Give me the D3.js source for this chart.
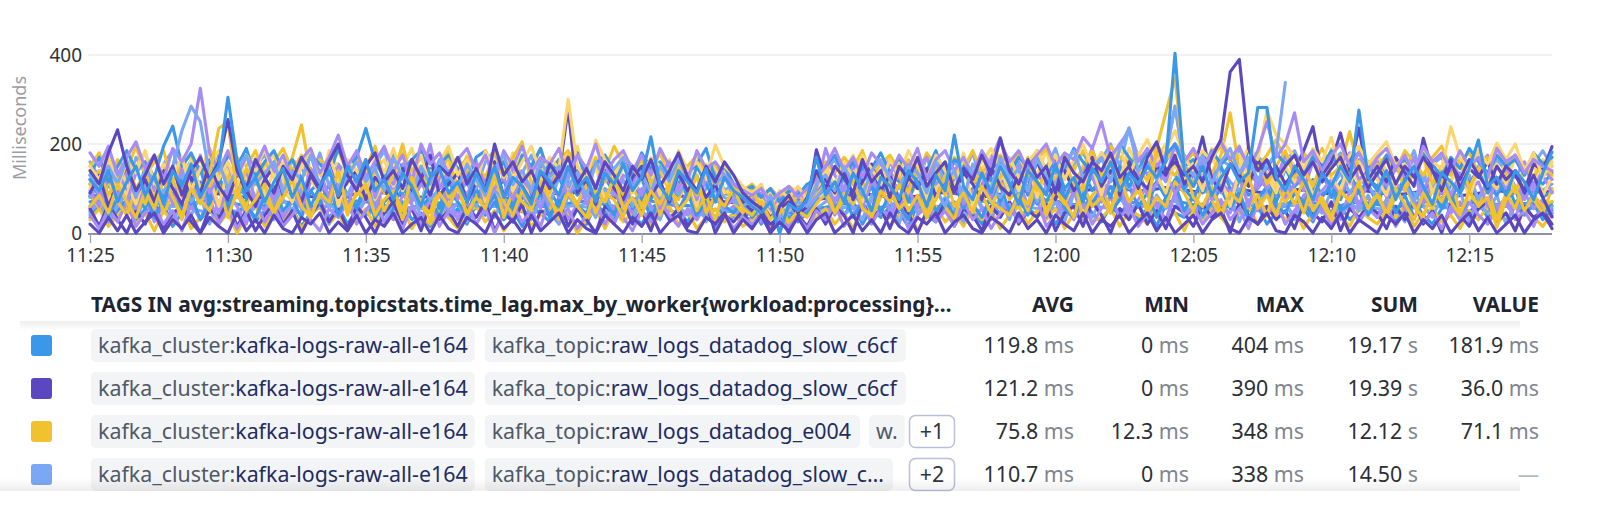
<!DOCTYPE html>
<html><head><meta charset="utf-8">
<script src="https://cdn.jsdelivr.net/npm/d3@7"></script>
<style>body{margin:0;background:#fff;}svg{display:block;font-family:"Noto Sans",sans-serif;}</style>
</head><body><svg id="c" width="1600" height="526"></svg>
<script>
// ---- data: one point every 20 s from 11:25 to 12:18 (160 points) ----
const s0=[120,95,140,70,115,150,85,130,65,140,105,155,80,120,150,305,160,95,125,70,
115,145,80,125,60,105,140,85,150,115,165,95,120,75,135,105,60,125,145,90,
115,70,135,95,150,80,125,105,65,140,115,85,150,100,125,70,135,110,155,95,
125,216,105,75,140,115,90,145,70,125,95,80,60,45,70,0,65,50,75,171,
85,115,70,135,95,50,125,105,75,140,115,60,130,95,220,105,75,135,90,150,
110,65,140,115,85,155,100,125,70,145,115,160,95,135,110,150,125,160,404,140,
105,150,85,125,155,115,135,282,282,125,95,150,120,75,135,105,150,115,276,125,
95,140,75,120,150,105,65,135,115,90,145,209,105,125,85,140,115,75,135,181.9];
const s1=[140,110,180,232,150,95,130,175,110,150,85,140,170,120,160,255,140,100,165,125,
90,150,120,170,135,100,160,200,130,95,150,180,115,140,100,165,125,85,150,130,
170,110,145,95,200,130,160,115,140,90,155,125,170,110,145,100,160,130,95,150,
120,165,105,140,180,125,95,150,115,160,130,90,70,55,0,60,85,45,80,140,
100,150,125,90,165,115,140,80,150,120,170,105,135,160,95,145,120,175,130,213,
140,110,165,125,150,90,170,135,115,160,140,180,125,150,100,170,205,140,160,130,
150,115,170,210,362,390,190,140,165,120,150,175,130,160,115,145,170,120,150,100,
135,165,110,150,125,170,140,95,155,120,165,130,100,150,120,140,90,130,80,36];
const s2=[60,85,45,110,70,35,95,55,120,80,40,100,65,130,235,250,90,50,75,110,
45,80,120,60,35,90,70,140,55,85,110,40,75,95,50,125,65,30,90,60,
105,45,80,55,130,70,40,95,60,115,75,45,90,60,35,100,70,125,55,80,
40,95,65,110,50,75,130,45,85,60,100,55,40,70,30,60,25,50,35,65,
90,45,75,120,55,40,95,70,110,50,85,35,75,130,60,90,45,105,70,55,
40,85,65,120,50,95,70,35,110,60,80,45,125,70,95,55,190,270,348,150,
80,60,105,45,90,70,130,55,85,40,100,65,120,50,80,35,95,70,115,55,
85,45,100,65,30,90,55,120,70,40,95,60,80,12.3,75,105,50,85,60,71.1];
const s3=[130,95,150,110,165,80,140,120,90,150,230,285,250,130,160,100,145,175,110,135,
160,90,140,120,175,105,150,85,130,160,115,145,95,170,125,80,150,110,165,130,
100,155,120,85,145,175,110,140,95,160,125,150,105,135,80,160,120,145,170,100,
135,90,150,115,165,125,95,145,110,130,80,60,75,40,85,0,55,70,60,110,
130,95,150,110,85,140,165,120,100,150,135,90,160,115,140,75,155,125,100,170,
120,145,95,165,130,110,155,185,125,150,170,115,190,236,140,160,120,175,285,150,
130,175,110,160,190,135,170,120,150,180,338];
const s4=[180,150,195,130,170,205,145,175,120,190,160,200,325,180,140,185,130,170,150,195,
140,175,120,165,190,135,170,220,150,185,125,160,195,140,175,115,200,155,180,130,
165,190,140,175,120,185,150,195,135,170,155,190,125,175,145,200,130,165,185,140,
175,130,190,150,170,120,185,145,160,130,110,95,85,100,70,90,105,80,100,120,
150,190,140,170,125,180,155,130,175,145,190,120,165,185,140,170,130,185,150,205,
160,185,140,175,200,150,180,165,215,190,250,170,200,230,160,190,150,175,285,160,
190,150,180,205,165,195,145,185,250,170,200,270,160,185,140,175,200,150,180,135,
170,190,145,175,130,195,160,180,140,185,150,170,125,190,160,175,135,165,150,140];
const s5=[150,120,175,100,160,135,185,110,155,130,170,95,145,180,120,160,105,175,140,190,
125,160,100,150,185,130,175,115,165,140,105,170,135,190,120,155,175,100,160,195,
130,165,110,185,140,175,120,160,195,135,170,145,300,150,120,209,165,130,180,145,
120,170,150,105,185,140,160,125,198,150,130,105,90,110,60,95,80,105,75,115,
140,105,160,125,175,145,110,165,130,185,150,120,175,140,105,170,135,160,190,145,
170,125,160,185,140,175,120,165,200,145,180,155,195,130,175,210,160,185,230,170,
140,185,160,210,175,145,195,165,275,220,200,170,145,190,160,215,140,175,195,155,
180,205,150,175,135,190,160,145,239,170,140,185,155,202,165,200,140,180,125,160];
const s6=[70,72,68,65,70,75,72,68,64,60,62,66,70,74,72,68,65,60,58,62,
66,70,68,64,60,58,62,66,70,72,70,66,62,58,55,58,62,66,68,65,
62,58,55,58,62,66,70,68,64,60,58,62,66,70,72,68,64,60,62,66,
70,72,68,64,60,62,58,55,52,50,48,45,42,44,46,48,45,50,52,55,
58,62,66,62,58,55,58,62,66,70,68,64,60,58,62,66,70,72,68,64,
60,62,66,70,74,72,68,64,66,70,74,78,75,70,66,62,66,70,72,68,
64,60,62,66,70,68,64,60,58,62,66,70,72,68,64,60,62,66,70,68,
64,60,58,62,66,70,72,68,64,62,66,70,68,64,60,62,66,68,65,62];
const s7=[90,130,60,110,150,85,120,70,140,100,65,125,90,155,105,75,135,95,60,120,
150,85,110,70,130,95,160,80,115,140,75,125,100,65,145,90,120,175,85,110,
135,70,115,95,160,80,125,105,70,140,100,130,280,90,120,65,140,100,75,125,
150,85,115,70,135,95,125,80,110,60,90,70,50,65,35,55,70,40,60,187,
120,90,140,75,115,155,95,130,70,125,100,145,80,120,90,135,110,75,150,105,
85,130,100,160,115,75,140,95,125,170,105,140,85,160,120,100,150,130,175,110,
140,216,120,95,155,130,105,165,125,150,110,140,185,239,130,160,225,140,236,120,
150,115,170,135,105,213,140,120,165,100,145,125,160,110,150,130,95,155,140,194];
const s8=[110,140,85,125,160,100,135,75,150,115,90,130,170,105,140,120,80,145,110,160,
125,95,170,243,130,100,150,85,120,165,105,140,90,130,200,115,150,95,135,170,
100,145,120,80,155,130,170,205,110,140,90,150,175,125,100,160,115,140,85,135,
165,110,140,95,150,120,85,145,105,130,100,80,95,60,75,45,90,65,85,110,
130,95,150,115,80,140,165,105,130,90,155,120,145,85,135,160,110,140,95,125,
150,115,170,95,140,120,165,105,150,185,130,155,100,165,140,120,175,145,130,160,
105,150,135,175,270,140,120,165,110,150,185,125,145,105,160,130,150,228,140,115,
155,120,165,95,140,175,110,150,130,165,100,145,170,120,135,90,150,125,160,130];
const s9=[80,110,60,95,130,75,105,55,120,85,140,70,100,125,60,95,115,80,135,90,
65,105,125,75,140,90,60,115,85,130,100,70,120,95,55,110,135,75,100,125,
85,115,60,130,95,75,120,140,80,105,65,125,90,110,135,70,100,85,120,60,
95,130,75,110,85,125,60,100,135,80,70,60,45,70,50,35,60,40,55,80,
105,70,125,90,60,115,95,140,75,110,130,85,100,60,120,95,75,135,105,80,
115,90,130,70,105,140,85,120,95,150,110,80,135,100,125,90,145,115,160,95,
130,105,80,145,115,95,130,150,100,120,85,140,110,75,125,100,135,90,120,105,
80,130,95,115,70,125,100,140,85,110,130,75,120,95,140,105,80,125,95,110];
const s10=[40,10,55,25,70,15,45,60,20,50,5,65,30,80,20,55,10,45,70,25,
60,15,40,75,30,5,55,35,70,20,50,80,25,45,10,60,30,75,15,50,
35,70,20,55,0,45,65,25,50,15,75,30,55,10,40,70,20,60,35,5,
50,25,70,40,15,55,30,65,20,45,10,35,20,40,5,30,15,35,10,50,
30,65,15,45,70,20,55,35,75,10,40,60,25,50,15,70,30,55,10,45,
65,25,50,75,15,40,60,30,70,20,55,80,35,60,15,45,70,25,90,40,
60,20,45,75,30,55,10,65,40,70,20,50,80,30,60,15,45,70,25,55,
35,65,15,50,75,25,45,10,60,30,70,40,20,55,80,30,50,15,65,40];
const s11=[100,140,75,160,110,65,135,90,150,120,80,165,100,125,60,145,95,130,170,85,
140,105,70,155,120,90,165,60,130,100,150,75,115,170,95,135,60,140,105,155,
85,130,165,70,120,150,95,140,60,125,100,160,80,135,110,150,70,125,165,90,
120,145,85,165,100,130,60,155,115,140,80,70,55,85,40,75,50,90,65,100,
130,85,155,110,70,145,120,90,160,105,135,75,150,115,90,165,60,130,105,145,
90,125,160,80,140,110,175,95,130,150,85,165,120,140,100,155,130,90,160,120,
145,95,175,120,60,140,105,165,130,90,150,115,170,80,140,125,95,160,110,145,
120,85,155,100,140,170,90,130,115,160,75,145,120,100,165,90,135,155,85,125];
const s12=[130,170,115,150,185,140,160,125,195,240,150,180,135,165,110,175,150,190,125,160,
185,140,165,120,175,155,130,190,145,170,235,160,125,180,140,165,185,130,155,175,
145,120,170,185,135,160,110,175,150,190,125,165,140,180,120,155,175,140,165,130,
180,145,160,125,175,135,155,190,120,150,110,95,105,80,100,70,95,85,110,120,
150,175,130,160,115,145,180,135,170,125,155,140,185,120,165,150,130,175,145,160,
135,170,150,185,125,165,145,190,160,135,180,155,200,170,140,185,160,175,200,150,
165,140,185,155,175,130,190,160,145,180,155,175,135,170,150,185,140,165,180,150,
130,175,150,165,140,180,155,125,170,145,190,160,135,175,150,165,130,180,155,170];
const s13=[20,0,35,5,40,0,25,45,0,30,10,40,0,35,15,0,45,5,30,0,
40,10,0,35,20,45,0,25,5,40,0,30,15,45,0,20,35,0,40,10,
0,35,20,0,45,10,30,0,40,5,25,45,0,30,10,0,40,20,0,35,
15,45,0,25,40,5,0,35,20,45,0,30,10,40,0,25,5,35,0,30,
45,0,20,40,5,30,0,45,15,0,35,20,45,0,25,40,10,0,35,20,
0,45,10,30,0,40,20,5,45,0,30,15,40,0,25,45,5,35,0,20,
40,0,30,45,10,0,35,20,45,5,0,40,25,0,35,10,45,0,30,15,
0,40,20,45,0,30,10,40,0,25,45,5,35,0,20,40,0,30,45,10];
const s14=[50,55,60,58,52,48,45,50,56,62,60,55,50,46,42,45,50,54,58,55,
50,46,44,48,52,56,60,58,54,50,47,45,48,52,56,58,55,50,46,44,
46,50,55,58,60,56,52,48,45,48,52,56,60,62,58,54,50,46,48,52,
56,58,54,50,46,44,42,40,38,36,35,34,32,35,38,40,38,42,45,48,
52,55,58,55,52,48,45,48,52,56,60,58,54,50,47,45,48,52,55,58,
60,62,58,55,52,55,58,62,65,62,58,55,52,55,58,62,66,64,60,56,
52,55,58,62,60,56,52,50,53,57,60,63,60,56,52,50,53,57,60,58,
55,52,50,53,56,60,62,58,55,52,50,54,58,62,60,56,53,56,59,55];
const s15=[120,85,150,105,70,135,160,95,125,80,145,110,175,90,130,155,100,140,75,120,
160,95,130,70,145,115,85,150,125,100,165,80,135,110,155,90,125,200,100,140,
75,130,160,105,140,85,150,120,95,165,110,140,80,125,150,100,170,90,130,115,
145,85,125,160,100,135,75,140,115,155,95,85,70,90,55,80,65,95,70,100,
190,130,95,150,115,140,85,160,125,100,145,170,110,135,90,155,120,100,165,215,
125,150,95,170,135,110,160,85,140,190,120,155,100,145,175,130,160,120,200,145,
110,165,135,90,155,125,170,100,150,120,175,140,95,160,130,105,150,180,120,140,
160,105,145,125,170,95,140,115,155,130,100,150,175,110,140,125,160,95,145,120];
const s16=[30,55,15,40,60,20,45,5,50,25,60,10,35,55,20,45,0,40,60,15,
50,25,55,10,40,60,20,45,5,35,55,15,50,30,60,10,40,20,55,35,
10,45,60,25,50,5,35,55,15,40,60,20,45,0,30,55,10,50,25,45,
55,15,40,60,20,50,10,35,55,25,45,15,30,50,10,40,20,45,5,35,
55,20,45,10,60,30,50,15,40,55,5,35,60,25,45,15,55,30,50,10,
40,60,20,50,30,55,10,45,60,25,35,55,15,50,40,20,60,30,45,5,
50,25,55,35,10,45,60,20,40,55,30,50,10,45,60,25,40,15,55,35,
20,50,35,60,15,45,55,25,40,10,50,30,60,20,45,5,55,35,15,45];
const s17=[85,60,110,75,125,90,55,105,70,120,95,65,115,80,130,60,100,85,120,70,
105,80,125,55,95,115,70,130,85,60,110,90,125,65,100,75,120,95,55,115,
80,125,65,100,90,120,55,110,75,130,95,60,115,85,105,70,125,90,60,110,
75,120,95,65,115,85,130,70,100,90,80,65,85,55,75,50,70,60,80,95,
115,70,100,125,60,110,85,120,75,95,130,65,105,90,120,55,100,80,125,70,
110,85,125,65,100,120,75,115,90,130,70,105,85,125,95,60,115,80,120,100,
75,125,90,110,65,120,85,100,130,70,115,95,60,120,85,105,75,125,90,110,
65,115,85,125,75,100,120,60,110,90,125,70,105,85,120,65,100,115,80,95];
const s18=[82,85,88,90,92,90,88,86,88,92,95,94,92,90,88,85,82,80,78,80,
83,86,88,85,82,80,78,80,84,88,90,92,90,87,84,82,80,82,86,89,
91,89,86,83,80,78,76,78,81,84,87,90,92,90,87,84,82,80,78,76,
78,81,84,86,84,81,78,75,72,70,68,66,64,62,64,66,68,70,72,75,
78,81,84,86,88,86,83,80,78,80,83,86,89,91,89,86,83,81,84,87,
90,92,94,96,98,96,94,92,95,98,100,102,100,97,94,96,99,102,100,97,
94,92,95,98,100,98,95,92,90,92,95,98,96,93,90,88,90,93,96,94,
91,88,86,88,91,94,92,89,86,84,86,89,92,95,93,90,88,91,94,92];
const s19=[140,105,165,120,85,150,180,115,145,95,170,130,90,155,185,110,160,125,80,150,
175,120,90,160,135,100,185,145,110,170,80,140,165,105,150,190,125,95,160,135,
110,175,140,90,165,125,180,100,155,120,85,160,135,195,110,145,175,95,150,120,
170,130,95,160,140,110,180,120,150,90,100,85,95,70,90,75,100,80,95,130,
155,100,140,175,115,150,90,165,130,105,170,140,95,160,125,180,110,145,175,120,
150,95,165,130,185,110,155,140,100,175,135,160,120,190,145,115,170,200,150,125,
160,135,190,115,150,175,125,165,140,105,180,150,120,165,135,190,145,110,160,130,
175,140,105,160,130,185,120,150,165,95,140,175,125,155,110,170,140,120,165,150];
const s20=[50,85,30,70,100,45,80,25,65,95,40,75,105,55,30,90,60,20,80,50,
95,35,70,105,45,80,25,60,90,40,75,100,50,30,85,65,20,95,55,80,
30,70,100,45,85,60,25,90,50,105,40,75,30,65,95,55,85,20,70,45,
100,60,35,80,50,95,30,70,105,45,60,35,75,25,55,40,65,30,50,70,
85,40,95,60,30,75,105,50,85,35,70,100,45,80,25,65,95,55,30,80,
45,90,60,105,35,75,50,95,30,70,100,55,85,40,75,105,60,30,90,50,
80,35,100,60,45,90,25,75,105,50,65,35,85,100,45,70,30,95,60,80,
40,75,105,55,30,85,60,95,45,70,25,80,100,50,65,35,90,55,75,45];
const s21=[160,125,180,140,105,170,135,95,155,185,120,165,145,100,175,130,160,110,150,175,
135,95,165,145,120,180,105,155,130,170,115,150,185,125,100,160,140,175,115,145,
170,130,100,160,185,120,150,135,175,105,145,165,120,180,140,100,160,130,175,150,
120,165,140,100,175,130,160,115,145,95,110,90,100,75,95,65,90,80,100,120,
140,165,120,150,180,105,140,165,125,155,100,175,140,120,160,135,180,110,150,170,
130,160,115,175,145,190,125,155,180,140,165,200,150,236,170,145,185,160,200,175,
145,180,125,165,150,190,135,170,155,120,160,185,140,175,115,155,180,130,165,145,
175,125,160,140,185,115,155,170,130,160,145,180,120,165,140,175,130,155,185,150];
const s22=[35,60,20,50,70,25,55,40,65,15,45,70,30,55,20,60,40,70,25,50,
65,30,55,15,45,70,35,60,20,50,40,65,25,55,70,30,45,15,60,35,
55,20,65,40,70,30,50,15,60,45,25,70,35,55,20,65,45,30,60,40,
20,55,70,35,50,25,65,40,15,60,45,30,55,20,50,35,60,25,45,55,
30,65,40,70,20,55,35,60,45,15,65,40,25,55,70,35,50,20,60,45,
70,30,55,40,65,20,50,35,70,45,25,60,40,70,30,55,15,65,45,35,
55,25,65,40,70,30,50,60,20,45,65,35,55,25,70,40,60,30,50,65,
35,60,25,50,70,40,20,55,65,30,45,70,35,55,25,60,40,65,30,50];
const s23=[150,180,120,165,140,195,130,160,185,115,155,175,135,190,145,120,170,150,185,130,
160,190,140,175,120,165,150,185,135,170,145,195,125,160,180,140,170,130,155,185,
140,170,150,125,180,160,135,175,145,190,130,165,185,150,120,170,140,195,155,135,
165,140,180,125,160,150,175,135,155,120,105,95,110,85,100,80,105,90,95,125,
160,135,170,145,185,125,155,175,140,165,130,180,150,120,170,145,185,135,160,175,
145,180,130,165,190,150,175,140,185,160,135,195,170,155,180,145,200,165,190,155,
180,140,170,195,160,135,185,150,175,210,165,140,180,155,190,145,170,130,185,160,
150,175,140,185,160,130,170,195,145,165,180,135,160,190,150,175,140,165,125,170];
const s24=[60,95,40,80,110,55,90,35,75,105,50,85,30,70,100,45,95,60,35,80,
105,50,75,35,95,65,110,40,85,55,100,30,70,90,45,105,60,80,35,95,
70,40,100,55,85,30,75,110,50,90,35,80,105,60,45,95,70,40,100,55,
85,35,75,105,50,90,40,70,100,60,45,75,35,60,40,70,30,55,45,80,
100,55,85,35,70,105,45,90,60,30,80,100,50,75,40,95,65,35,85,105,
50,80,40,95,70,110,55,35,85,65,100,45,75,105,60,90,35,80,110,50,
85,40,70,100,55,95,30,75,105,60,45,90,70,35,80,110,50,65,95,40,
75,105,45,85,35,70,100,55,90,40,80,60,105,35,75,95,50,85,40,70];
const s25=[45,70,25,60,90,35,75,55,95,30,65,40,85,20,70,50,95,35,60,80,
30,75,50,95,40,65,20,85,55,35,90,60,25,75,45,100,35,65,85,40,
70,25,90,50,35,80,60,95,30,75,45,20,85,55,70,35,95,40,65,25,
80,50,30,90,60,40,75,25,85,45,55,35,65,30,50,25,60,35,45,55,
70,95,40,60,30,85,50,75,20,90,45,65,35,80,55,25,95,60,40,75,
30,85,55,100,40,70,25,90,60,35,80,50,95,45,65,30,85,55,75,40,
90,35,65,50,85,25,75,55,95,40,70,30,80,60,45,95,35,70,50,85,
40,75,55,25,90,60,35,80,50,95,30,65,45,85,20,70,55,90,40,60];
const s26=[55,15,65,30,0,50,20,70,10,45,60,25,0,55,35,70,15,50,5,40,
65,20,50,0,40,70,25,55,10,60,35,0,45,70,20,55,5,65,30,50,
15,60,35,70,5,45,25,65,0,50,40,70,15,55,30,0,60,45,70,20,
50,5,65,30,55,15,45,70,0,40,25,50,10,45,20,35,0,40,15,55,
20,60,40,0,70,30,55,10,65,45,0,50,30,70,15,55,40,5,60,35,
70,20,50,35,65,5,45,60,15,70,40,0,55,30,65,20,50,10,60,45,
15,65,35,55,0,70,40,20,60,30,50,10,65,45,25,70,5,55,35,60,
45,10,60,30,70,20,50,0,65,40,15,55,70,25,45,5,60,35,50,20];
const s27=[90,55,115,70,40,100,65,120,45,85,30,105,75,50,110,35,95,60,120,80,
45,100,70,115,35,85,60,110,40,95,75,120,50,90,30,105,65,45,115,80,
100,40,85,60,120,35,95,70,50,110,80,30,100,65,115,45,90,75,35,105,
60,110,40,95,75,120,50,85,30,100,70,45,80,35,65,40,75,50,60,85,
110,45,90,65,120,35,80,100,55,75,115,40,95,60,30,105,70,85,45,120,
75,100,50,115,40,90,65,120,35,85,105,55,95,70,110,45,80,60,115,90,
50,105,75,35,95,120,60,85,40,110,70,100,45,115,65,30,90,75,105,55,
95,40,80,110,60,35,100,70,120,45,85,65,105,30,90,55,115,75,45,100];
const s28=[110,85,140,95,125,70,150,100,80,135,115,90,145,65,120,100,140,75,130,105,
85,145,110,70,130,95,150,80,120,105,140,75,115,135,90,125,65,145,100,120,
95,135,70,120,145,85,110,130,75,150,100,125,80,140,105,65,130,115,90,145,
120,75,140,100,130,85,150,110,70,125,95,80,100,70,90,65,85,75,95,110,
140,95,125,75,150,105,85,135,115,70,130,100,145,90,120,80,140,110,75,125,
100,145,85,130,110,150,75,120,140,95,125,80,150,105,135,90,115,145,130,100,
135,90,120,150,100,75,140,110,130,85,145,105,125,95,150,80,115,135,90,120,
105,140,80,125,150,95,115,135,70,130,110,145,90,120,100,140,85,125,110,135];
const s29=[95,60,125,80,140,55,110,90,130,65,100,135,70,115,45,105,85,140,60,120,
75,130,95,55,115,140,80,105,60,125,90,45,120,100,135,70,110,85,130,50,
115,85,135,60,100,125,75,140,95,55,120,80,110,130,65,105,140,90,60,125,
85,135,55,110,95,130,70,120,100,60,75,90,60,85,50,80,65,90,55,100,
125,70,105,135,60,115,90,140,75,100,55,130,85,110,140,65,95,120,80,135,
90,120,60,135,105,75,140,95,115,130,70,125,100,55,140,85,110,135,90,120,
105,140,75,115,90,130,60,125,100,135,80,110,140,70,95,120,85,135,60,115,
130,80,110,95,140,65,120,105,85,135,95,115,60,125,100,140,75,110,130,90];

const allSeries=[s0,s1,s2,s3,s4,s5,s6,s7,s8,s9,s10,s11,s12,s13,s14,s15,s16,s17,s18,s19,s20,s21,s22,s23,s24,s25,s26,s27,s28,s29];
const seriesColorKey=["blue","purple","yellow","lightblue","lavender","lightyellow","blue","purple",
  "yellow","lightblue","lavender","lightyellow","blue","purple","lightblue","lavender",
  "yellow","blue","purple","lightyellow","lavender","lightblue","blue","yellow",
  "blue","lightblue","purple","yellow","blue","lavender"];
const drawOrder=[6,14,18,22,16,20,25,26,10,24,17,27,9,21,28,29,11,19,23,15,8,12,7,5,4,3,2,1,0,13];
const yTicks=[0,200,400];

// ---- legend table ----
const colHeaders=["AVG","MIN","MAX","SUM","VALUE"];
const headerTitle="TAGS IN avg:streaming.topicstats.time_lag.max_by_worker{workload:processing}…";
const legendColorKey=["blue","purple","yellow","lightblue"];
const clusterTag=["kafka-logs-raw-all-e164","kafka-logs-raw-all-e164","kafka-logs-raw-all-e164","kafka-logs-raw-all-e164"];
const topicTag=["raw_logs_datadog_slow_c6cf","raw_logs_datadog_slow_c6cf","raw_logs_datadog_e004","raw_logs_datadog_slow_c…"];
const extraTag=[null,null,"w.",null];
const moreTags=[null,null,"+1","+2"];
const avgVals=["119.8","121.2","75.8","110.7"];
const minVals=["0","0","12.3","0"];
const maxVals=["404","390","348","338"];
const sumVals=["19.17","19.39","12.12","14.50"];
const lastVals=["181.9","36.0","71.1",null];

const palette={blue:"#3b97e9",purple:"#5b48c0",yellow:"#f2c12e",lightblue:"#7ba7f4",lavender:"#a88cf6",lightyellow:"#fcd56f"};

const svg=d3.select("#c");
const t0=new Date(2024,0,1,11,25,0), t1=new Date(2024,0,1,12,18,0);
const x=d3.scaleTime().domain([t0,t1]).range([90,1552]);
const y=d3.scaleLinear().domain([0,400]).range([233,55]);
const tAt=i=>new Date(t0.getTime()+i*20000);

// grid
svg.append("g").selectAll("line").data(yTicks.filter(d=>d>0)).join("line")
  .attr("x1",88).attr("x2",1552).attr("y1",d=>y(d)).attr("y2",d=>y(d))
  .attr("stroke","#e6e6eb").attr("stroke-width",1.2);

// y axis
const ya=svg.append("g").attr("transform","translate(89,0)")
  .call(d3.axisLeft(y).tickValues(yTicks).tickSize(0).tickPadding(7));
ya.select(".domain").remove();
ya.selectAll("text").attr("font-size",19).attr("fill","#2f3338").attr("font-family","Noto Sans");

svg.append("text").attr("transform","translate(26,128) rotate(-90)")
  .attr("text-anchor","middle").attr("font-size",18).attr("fill","#9c9ca4").text("Milliseconds");

// x axis
const xa=svg.append("g").attr("transform","translate(0,234)")
  .call(d3.axisBottom(x).ticks(d3.timeMinute.every(5)).tickFormat(d3.timeFormat("%H:%M")).tickSize(9).tickPadding(6));
xa.select(".domain").attr("stroke","#8d90a8").attr("stroke-width",2).attr("d","M88,0H1552");
xa.selectAll(".tick line").attr("stroke","#9ea2ad").attr("stroke-width",1.3);
xa.selectAll("text").attr("font-size",19).attr("fill","#2f3338").attr("font-family","Noto Sans");

// lines
const line=d3.line().defined(d=>d!=null).x((d,i)=>x(tAt(i))).y(d=>y(d));
svg.append("g").selectAll("path").data(drawOrder).join("path")
  .attr("d",k=>line(allSeries[k])).attr("fill","none")
  .attr("stroke",k=>palette[seriesColorKey[k]]).attr("stroke-width",3.1)
  .attr("stroke-linejoin","round").attr("stroke-linecap","round");

// ---- legend ----
function measure(str,size,weight){
  const t=svg.append("text").attr("font-size",size).attr("font-weight",weight).text(str);
  const w=t.node().getComputedTextLength(); t.remove(); return w;}
const rowFont=100*370/measure("kafka_cluster:"+clusterTag[0],100,400);
const headFont=100*861/measure(headerTitle,100,700);

const defs=svg.append("defs");
const g1=defs.append("linearGradient").attr("id","sh1").attr("x1",0).attr("x2",0).attr("y1",0).attr("y2",1);
g1.append("stop").attr("offset",0).attr("stop-color","#000").attr("stop-opacity",0.07);
g1.append("stop").attr("offset",1).attr("stop-color","#000").attr("stop-opacity",0);
const g2=defs.append("linearGradient").attr("id","sh2").attr("x1",0).attr("x2",0).attr("y1",0).attr("y2",1);
g2.append("stop").attr("offset",0).attr("stop-color","#000").attr("stop-opacity",0);
g2.append("stop").attr("offset",1).attr("stop-color","#000").attr("stop-opacity",0.07);
svg.append("rect").attr("x",20).attr("y",321).attr("width",1500).attr("height",9).attr("fill","url(#sh1)");

const headerY=305;
svg.append("text").attr("x",91).attr("y",headerY).attr("dy","0.35em").attr("font-size",headFont)
  .attr("font-weight",700).attr("fill","#1d2530").text(headerTitle);
const colRight=[1074,1189,1304,1418,1539];
svg.append("g").selectAll("text").data(colHeaders).join("text")
  .attr("x",(d,i)=>colRight[i]).attr("y",headerY).attr("dy","0.35em").attr("text-anchor","end")
  .attr("font-size",headFont).attr("font-weight",700).attr("fill","#1d2530").text(d=>d);

const rowY=[345.5,388.5,431.5,474.5];
const pillH=33;
rowY.forEach((cy,r)=>{
  const g=svg.append("g");
  g.append("rect").attr("x",31).attr("y",cy-10.5).attr("width",21).attr("height",21).attr("rx",3)
    .attr("fill",palette[legendColorKey[r]]);
  const w1=measure("kafka_cluster:"+clusterTag[r],rowFont,400)+14;
  g.append("rect").attr("x",91).attr("y",cy-pillH/2).attr("width",w1).attr("height",pillH).attr("rx",5).attr("fill","#f3f4f6");
  const t1=g.append("text").attr("x",98).attr("y",cy).attr("dy","0.35em").attr("font-size",rowFont);
  t1.append("tspan").attr("fill","#4f5968").text("kafka_cluster:");
  t1.append("tspan").attr("fill","#1e2d62").text(clusterTag[r]);
  const x2=91+w1+10;
  const w2=measure("kafka_topic:"+topicTag[r],rowFont,400)+16;
  g.append("rect").attr("x",x2).attr("y",cy-pillH/2).attr("width",w2).attr("height",pillH).attr("rx",5).attr("fill","#f3f4f6");
  const t2=g.append("text").attr("x",x2+7).attr("y",cy).attr("dy","0.35em").attr("font-size",rowFont);
  t2.append("tspan").attr("fill","#4f5968").text("kafka_topic:");
  t2.append("tspan").attr("fill","#1e2d62").text(topicTag[r]);
  let xe=x2+w2;
  if(extraTag[r]){
    const x3=xe+9, w3=measure(extraTag[r],rowFont,400)+14;
    g.append("rect").attr("x",x3).attr("y",cy-pillH/2).attr("width",w3).attr("height",pillH).attr("rx",5).attr("fill","#f3f4f6");
    g.append("text").attr("x",x3+w3/2).attr("y",cy).attr("dy","0.35em").attr("text-anchor","middle")
      .attr("font-size",rowFont).attr("fill","#4f5968").text(extraTag[r]);
  }
  if(moreTags[r]){
    g.append("rect").attr("x",909.5).attr("y",cy-16).attr("width",45).attr("height",32).attr("rx",6)
      .attr("fill","#fff").attr("stroke","#b9c0d8").attr("stroke-width",1.5);
    g.append("text").attr("x",932).attr("y",cy).attr("dy","0.35em").attr("text-anchor","middle")
      .attr("font-size",rowFont).attr("fill","#2f3440").text(moreTags[r]);
  }
  const cells=[[avgVals[r],"ms"],[minVals[r],"ms"],[maxVals[r],"ms"],[sumVals[r],"s"],[lastVals[r],"ms"]];
  cells.forEach((c,j)=>{
    const t=g.append("text").attr("x",colRight[j]).attr("y",cy).attr("dy","0.35em").attr("text-anchor","end").attr("font-size",rowFont);
    if(c[0]==null){ t.attr("fill","#b4b8be").text("—"); }
    else{
      t.append("tspan").attr("fill","#2b2f36").text(c[0]);
      t.append("tspan").attr("fill","#80868f").text("\u00a0"+c[1]);
    }
  });
});
svg.append("rect").attr("x",0).attr("y",478).attr("width",1520).attr("height",13).attr("fill","url(#sh2)");
</script></body></html>
